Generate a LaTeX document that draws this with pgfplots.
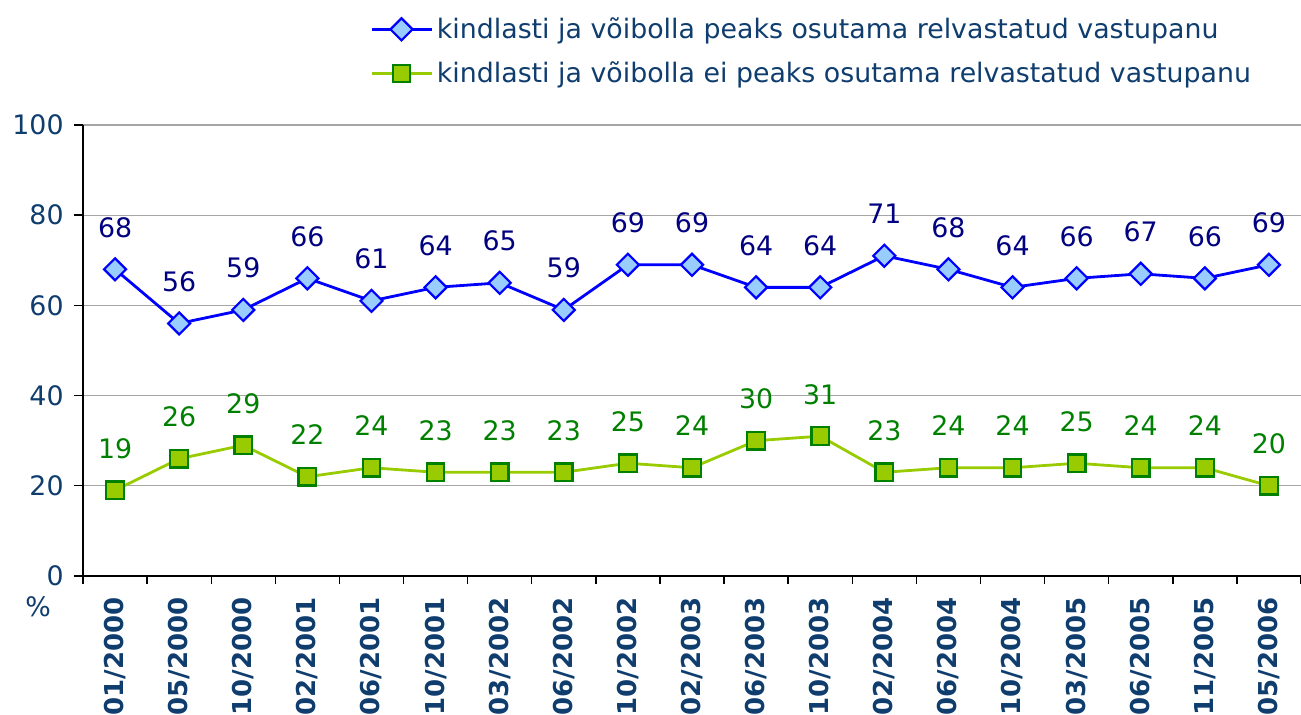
\documentclass[border=0pt]{standalone}
\usepackage{fontspec}
\setmainfont{DejaVu Sans}
\usepackage{pgfplots}
\pgfplotsset{compat=1.18}
\definecolor{labblue}{HTML}{0F3D6E}
\definecolor{navyl}{HTML}{000080}
\definecolor{grnl}{HTML}{008000}
\definecolor{limeg}{HTML}{99CC00}
\definecolor{skyd}{HTML}{99CCFF}
\definecolor{gridg}{HTML}{A6A6A6}
\begin{document}
\begin{tikzpicture}
\path[use as bounding box] (-41.5pt,-69.5pt) rectangle (609pt,288pt);
\begin{axis}[
  scale only axis, width=609pt, height=225.5pt,
  xmin=-0.5, xmax=18.5, ymin=0, ymax=100,
  axis x line=bottom, axis y line=left,
  axis line style={-, black, line width=1pt},
  ytick={0,20,...,100}, ymajorgrids,
  major grid style={gridg, line width=0.6pt},
  xtick={0,...,18},
  xticklabels={01/2000,05/2000,10/2000,02/2001,06/2001,10/2001,03/2002,06/2002,10/2002,02/2003,06/2003,10/2003,02/2004,06/2004,10/2004,03/2005,06/2005,11/2005,05/2006},
  minor xtick={-0.5,0.5,...,18.5},
  tick align=outside,
  major x tick style={draw=none},
  major tick length=4.5pt, minor tick length=4pt,
  tick style={black, line width=0.7pt},
  xticklabel style={rotate=90, anchor=east, inner sep=6pt, font=\fontsize{13}{15}\selectfont\bfseries, text=labblue},
  yticklabel style={font=\fontsize{13.4}{15}\selectfont, text=labblue, inner sep=5pt},
  /pgf/number format/assume math mode=true,
  clip=false,
  legend style={draw=none, fill=none, at={(axis description cs:0.2354,1.2483)}, anchor=north west, inner sep=0pt, row sep=6.2pt, font=\fontsize{13.4}{15}\selectfont, text=labblue},
  legend cell align=left,
  legend image code/.code={\draw[mark repeat=2,mark phase=2,#1] plot coordinates {(0pt,0pt) (15pt,0pt) (30pt,0pt)};},
]
\addplot[blue, line width=1.4pt, mark=square*, mark size=3.9pt, mark options={rotate=45, fill=skyd, draw=blue, line width=1.1pt},
  nodes near coords, point meta=y,
  every node near coord/.append style={anchor=base, yshift=16pt, inner sep=0pt, text=navyl, font=\fontsize{13.4}{15}\selectfont}]
coordinates {(0,68) (1,56) (2,59) (3,66) (4,61) (5,64) (6,65) (7,59) (8,69) (9,69) (10,64) (11,64) (12,71) (13,68) (14,64) (15,66) (16,67) (17,66) (18,69)};
\addlegendentry{kindlasti ja võibolla peaks osutama relvastatud vastupanu}
\addplot[limeg, line width=1.4pt, mark=square*, mark size=4.4pt, mark options={fill=limeg, draw=grnl, line width=1.1pt},
  nodes near coords, point meta=y,
  every node near coord/.append style={anchor=base, yshift=16pt, inner sep=0pt, text=grnl, font=\fontsize{13.4}{15}\selectfont}]
coordinates {(0,19) (1,26) (2,29) (3,22) (4,24) (5,23) (6,23) (7,23) (8,25) (9,24) (10,30) (11,31) (12,23) (13,24) (14,24) (15,25) (16,24) (17,24) (18,20)};
\addlegendentry{kindlasti ja võibolla ei peaks osutama relvastatud vastupanu}
\node[text=labblue, font=\fontsize{13.4}{15}\selectfont] at (axis description cs:0,0) [xshift=-22.5pt, yshift=-15.5pt] {\%};
\end{axis}
\end{tikzpicture}
\end{document}
